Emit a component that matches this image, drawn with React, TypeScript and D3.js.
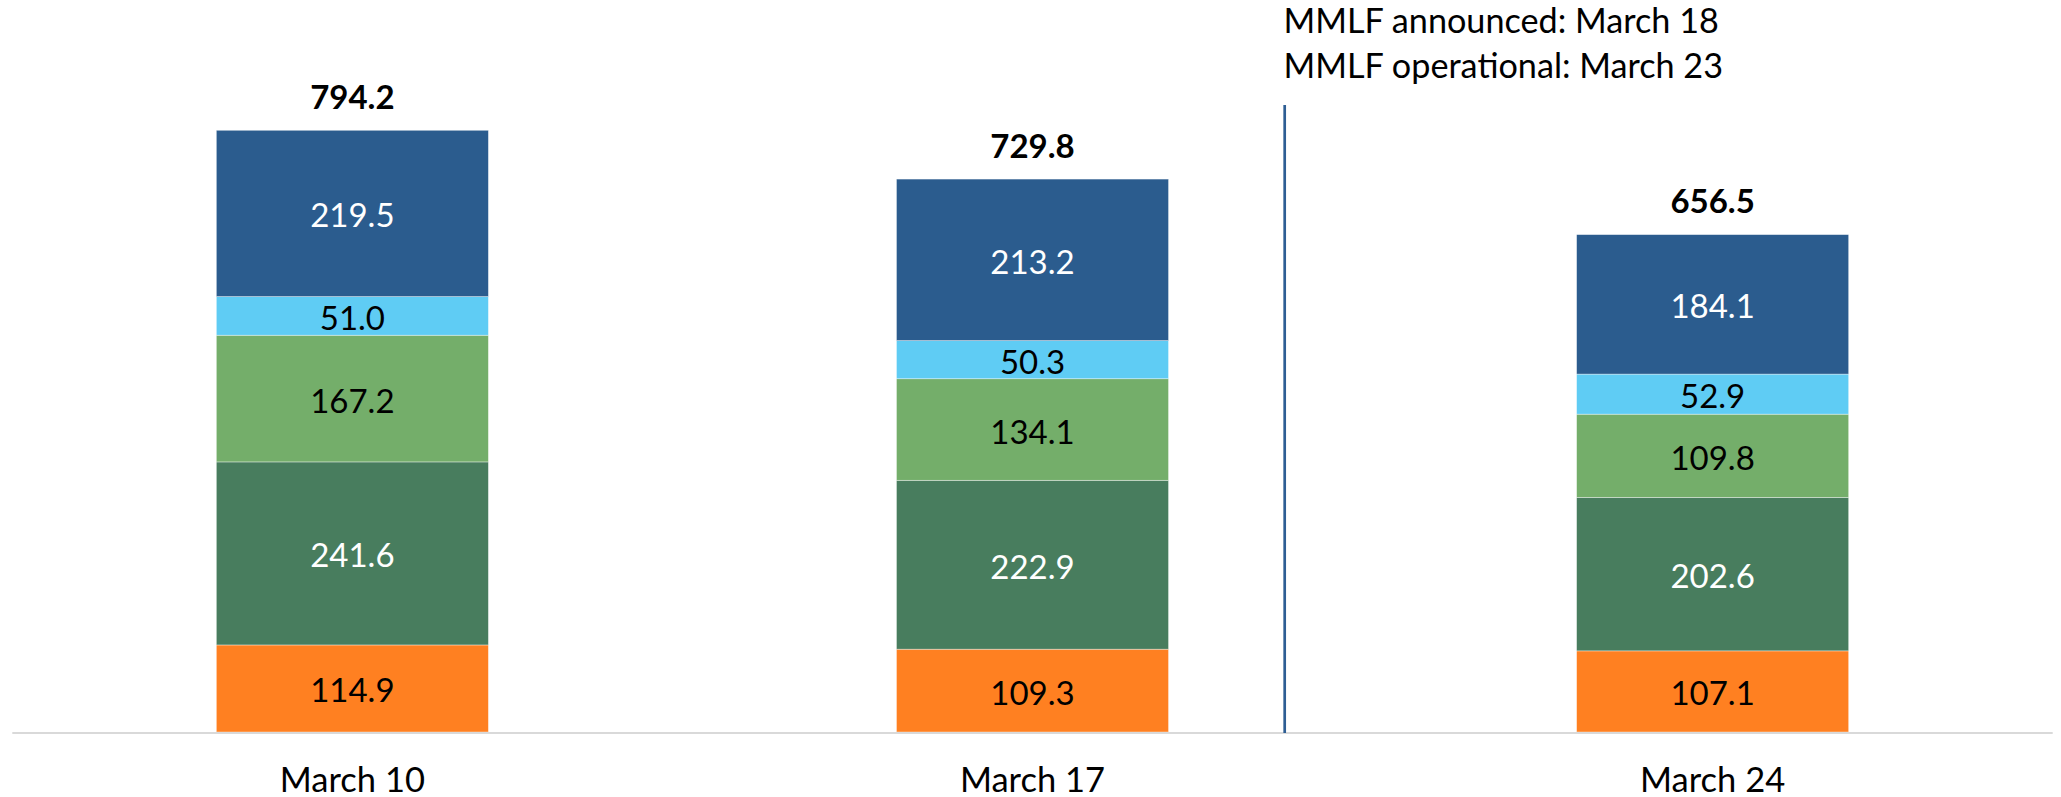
import React from "react";
import * as d3 from "d3";

const categories = ["March 10", "March 17", "March 24"];
const seriesNames = ["s1", "s2", "s3", "s4", "s5"]; // bottom to top
const s1 = [114.9, 109.3, 107.1];
const s2 = [241.6, 222.9, 202.6];
const s3 = [167.2, 134.1, 109.8];
const s4 = [51.0, 50.3, 52.9];
const s5 = [219.5, 213.2, 184.1];
const totals = [794.2, 729.8, 656.5];
const colors = ["#FF8021", "#487D5E", "#74AE6A", "#5FCCF4", "#2B5C8E"];
const textColors = ["#000000", "#FFFFFF", "#000000", "#000000", "#FFFFFF"];
const annotation = ["MMLF announced: March 18", "MMLF operational: March 23"];

const W = 2061;
const H = 797;
const FONT = "Lato, 'Open Sans', sans-serif";
const FS = 33;

export default function App() {
  const x = d3.scaleBand<string>().domain(categories).range([12.3, 2052.7]).paddingInner(0.6).paddingOuter(0.3);
  const y = d3.scaleLinear().domain([0, 800]).range([732, 125.9]);

  const rows = categories.map((c, i) => {
    const r: any = { cat: c };
    [s1, s2, s3, s4, s5].forEach((s, k) => (r[seriesNames[k]] = s[i]));
    return r;
  });
  const stacked = d3.stack<any>().keys(seriesNames)(rows);

  const lineX = 1284.7;

  return (
    <svg width={W} height={H} style={{ position: "absolute", left: 0, top: 0, background: "#fff" }} fontFamily={FONT}>
      <rect x={0} y={0} width={W} height={H} fill="#fff" />
      {stacked.map((layer, k) => (
        <g key={k}>
          {layer.map((d, i) => {
            const x0 = x(categories[i])!;
            const y0 = y(d[1]);
            const y1 = y(d[0]);
            return (
              <g key={i}>
                <rect x={x0} y={y0} width={x.bandwidth()} height={y1 - y0} fill={colors[k]} stroke="#ffffff" strokeOpacity={0.5} strokeWidth={0.75} />
                <text x={x0 + x.bandwidth() / 2} y={(y0 + y1) / 2 + 14} textAnchor="middle" fontSize={FS} fill={textColors[k]}>
                  {(d[1] - d[0]).toFixed(1)}
                </text>
              </g>
            );
          })}
        </g>
      ))}
      {totals.map((t, i) => (
        <text key={i} x={x(categories[i])! + x.bandwidth() / 2} y={y(t) - 21.5} textAnchor="middle" fontSize={FS} fontWeight="bold" fill="#000">
          {t.toFixed(1)}
        </text>
      ))}
      <line x1={12.3} x2={2052.7} y1={733} y2={733} stroke="#D9D9D9" strokeWidth={2.2} />
      {categories.map((c, i) => (
        <text key={c} x={x(c)! + x.bandwidth() / 2} y={791.5} textAnchor="middle" fontSize={34.5} fill="#000">
          {c}
        </text>
      ))}
      <line x1={lineX} x2={lineX} y1={105} y2={733} stroke="#2E5E94" strokeWidth={2.7} />
      {annotation.map((a, i) => (
        <text key={i} x={1283.5} y={33.3 + i * 45} fontSize={34.2} fill="#000">
          {a}
        </text>
      ))}
    </svg>
  );
}
